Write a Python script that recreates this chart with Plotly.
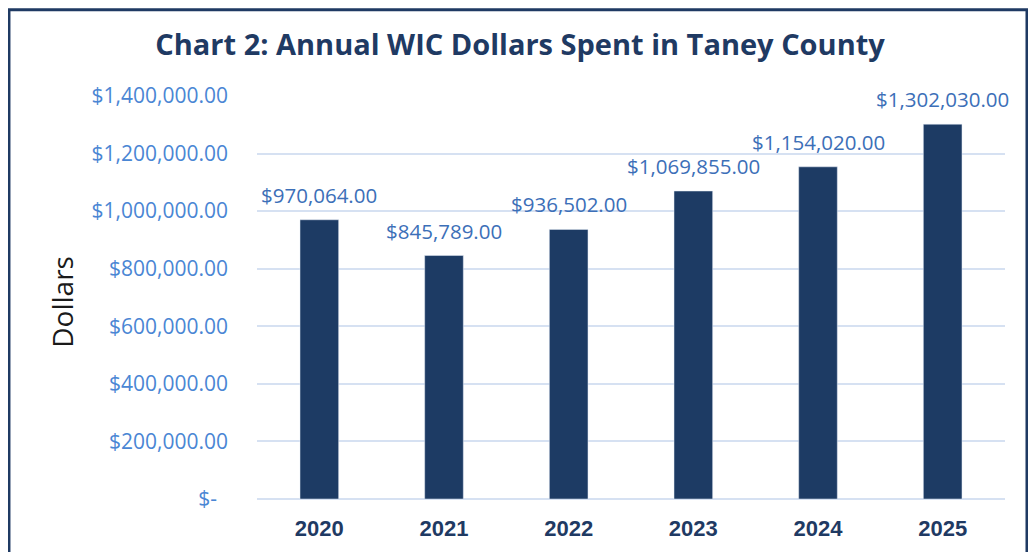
import plotly.graph_objects as go

NAVY = '#1F3A63'
BLUE_TICK = '#4A86D4'
BLUE_LABEL = '#3C6FB8'
GRID = '#D6E1F2'

anos = ['2020', '2021', '2022', '2023', '2024', '2025']
valores = [970064.00, 845789.00, 936502.00, 1069855.00, 1154020.00, 1302030.00]
ticks_y = [0, 200000, 400000, 600000, 800000, 1000000, 1200000, 1400000]
ticks_txt = ['$-  '] + [f'${v:,.2f}' for v in ticks_y[1:]]

fig = go.Figure(go.Bar(x=anos, y=valores, marker_color='#1D3B64'))

# rótulos de valor acima das barras (x = posição da categoria)
for i, v in enumerate(valores):
    fig.add_annotation(x=i, y=v, text=f'${v:,.2f}', showarrow=False,
                       yanchor='bottom', yshift=9,
                       font=dict(family='Open Sans', size=20.5, color=BLUE_LABEL))

# moldura escura em volta do gráfico (a borda de baixo fica fora da imagem)
fig.add_shape(type='rect', xref='paper', yref='paper',
              x0=-0.3316, x1=1.0294, y0=-0.5, y1=1.214,
              line=dict(color=NAVY, width=3), fillcolor='rgba(0,0,0,0)')

fig.add_annotation(text='Dollars', xref='paper', yref='paper', x=-0.261, y=0.489,
                   xanchor='center', yanchor='middle',
                   textangle=-90, showarrow=False,
                   font=dict(family='Open Sans', size=28, color='#1a1a1a'))

fig.update_layout(
    title=dict(text='<b>Chart 2: Annual WIC Dollars Spent in Taney County</b>',
               x=0.502, xanchor='center', y=0.932, yanchor='middle',
               font=dict(family='Open Sans', size=29, color=NAVY)),
    width=1020, height=544,
    margin=dict(l=249, r=23, t=88, b=53),
    plot_bgcolor='white', paper_bgcolor='white',
    bargap=0.69, showlegend=False,
    xaxis=dict(type='category', range=[-0.5, 5.5],
               tickvals=anos, ticktext=[f'<b>{a}</b>' for a in anos],
               tickfont=dict(family='Liberation Sans', size=22, color=NAVY),
               ticklabelstandoff=14, showgrid=False, showline=False),
    yaxis=dict(range=[0, 1400000], tickvals=ticks_y, ticktext=ticks_txt,
               tickfont=dict(family='Open Sans', size=21, color=BLUE_TICK),
               ticklabelstandoff=28, gridcolor=GRID, gridwidth=2,
               zeroline=True, zerolinecolor=GRID, zerolinewidth=2),
)

fig.write_html('out.html')
